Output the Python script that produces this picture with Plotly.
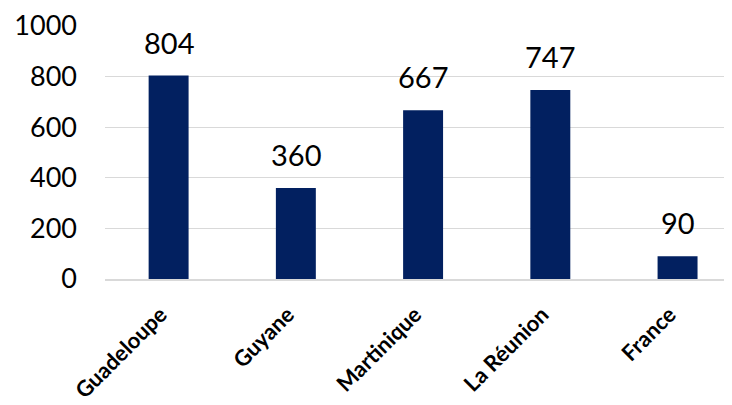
import plotly.graph_objects as go

regions = ["Guadeloupe", "Guyane", "Martinique", "La Réunion", "France"]
values = [804, 360, 667, 747, 90]
y_ticks = [0, 200, 400, 600, 800, 1000]

fig = go.Figure(go.Bar(
    x=regions,
    y=values,
    marker=dict(color="#022060", line=dict(width=0)),
))

# value labels sit well above the bars, as in the original
for r, v in zip(regions, values):
    fig.add_annotation(
        x=r, y=v, text=str(v), showarrow=False,
        yanchor="bottom", yshift=14,
        font=dict(size=29, family="Lato", color="black"),
    )

fig.update_layout(
    width=732, height=405,
    margin=dict(l=97, r=9, t=18, b=134, autoexpand=False),
    plot_bgcolor="white",
    paper_bgcolor="white",
    bargap=0.686,
    showlegend=False,
    font=dict(family="Lato", color="black"),
)
fig.update_xaxes(
    range=[-0.5, 4.42],
    automargin=False,
    tickangle=-45,
    tickfont=dict(size=22, family="Lato", weight="bold"),
    showline=True, linecolor="#d9d9d9", linewidth=2,
    ticks="",
    ticklabelstandoff=12,
    ticklabelshift=-8,
    ticklabeloverflow="allow",
)
fig.update_yaxes(
    range=[0, 1000],
    automargin=False,
    tickvals=y_ticks,
    tickfont=dict(size=27, family="Lato"),
    showgrid=True, gridcolor="#d9d9d9", gridwidth=1,
    zeroline=False,
    ticks="",
    ticklabelstandoff=27,
    ticklabeloverflow="allow",
)

fig.write_html("out.html")
